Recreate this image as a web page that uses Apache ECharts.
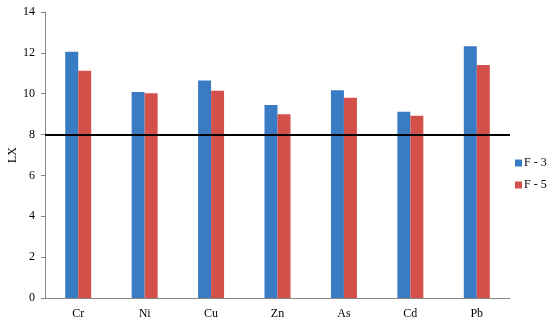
<!DOCTYPE html>
<html>
<head>
<meta charset="utf-8">
<script src="https://cdn.jsdelivr.net/npm/echarts@6/dist/echarts.min.js"></script>
<style>
  html, body { margin: 0; padding: 0; background: #fff; }
  #chart { width: 550px; height: 324px; }
</style>
</head>
<body>
<div id="chart"></div>
<script>
// 元素类别
var categories = ['Cr', 'Ni', 'Cu', 'Zn', 'As', 'Cd', 'Pb']
// 两组数据
var f3 = [12.06, 10.08, 10.65, 9.45, 10.17, 9.12, 12.32]
var f5 = [11.13, 10.02, 10.15, 9.0, 9.8, 8.92, 11.4]
var yTicks = [0, 2, 4, 6, 8, 10, 12, 14]
var refLine = 8

var chart = echarts.init(document.getElementById('chart'))
var font = 'Liberation Serif'
var option = {
  animation: false,
  textStyle: { fontFamily: font },
  grid: { left: 45, right: 40, top: 12, bottom: 26, outerBoundsMode: 'none' },
  legend: {
    orient: 'vertical',
    left: 510,
    top: 152,
    itemWidth: 7,
    itemHeight: 7,
    itemGap: 10,
    icon: 'rect',
    textStyle: { fontFamily: font, fontSize: 12, color: '#000', padding: [0, 0, 0, -3] },
    data: ['F - 3', 'F - 5']
  },
  xAxis: {
    type: 'category',
    data: categories,
    axisTick: { show: false },
    axisLine: { lineStyle: { color: '#868686' } },
    axisLabel: { fontFamily: font, fontSize: 12, color: '#000', margin: 10 }
  },
  yAxis: {
    type: 'value',
    min: yTicks[0],
    max: yTicks[yTicks.length - 1],
    interval: 2,
    name: 'LX',
    nameLocation: 'middle',
    nameGap: 26,
    nameMoveOverlap: false,
    nameTextStyle: { fontFamily: font, fontSize: 12, color: '#000' },
    splitLine: { show: false },
    axisLine: { show: true, lineStyle: { color: '#868686' } },
    axisTick: { show: true, length: 4, lineStyle: { color: '#868686' } },
    axisLabel: { fontFamily: font, fontSize: 12, color: '#000', margin: 10 }
  },
  series: [{
    name: 'F - 3',
    type: 'bar',
    data: f3,
    barWidth: 13,
    barGap: '0%',
    itemStyle: { color: '#3a7cc4' },
    markLine: {
      silent: true,
      symbol: 'none',
      label: { show: false },
      lineStyle: { color: '#000', width: 2, type: 'solid' },
      data: [{ yAxis: refLine }]
    }
  }, {
    name: 'F - 5',
    type: 'bar',
    data: f5,
    barWidth: 13,
    itemStyle: { color: '#d4514b' }
  }]
}
chart.setOption(option)
</script>
</body>
</html>
